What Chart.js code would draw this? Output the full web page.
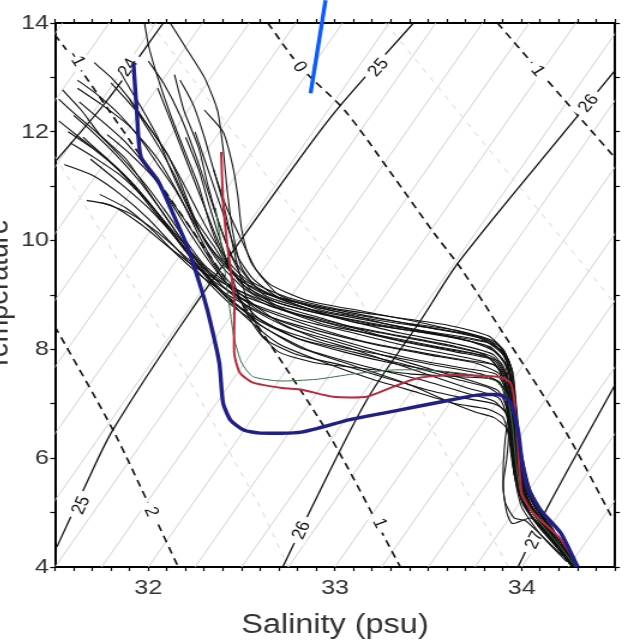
<!DOCTYPE html>
<html lang="en">
<head>
<meta charset="UTF-8">
<title>T-S diagram</title>
<style>
    html, body { margin: 0; padding: 0; background: #fff; overflow: hidden; }
    body { width: 626px; height: 643px; position: relative; }
    /* the original figure is a little stretched sideways */
    .stretch { position: absolute; left: -26px; top: 0; width: 543px; height: 643px; transform: scaleX(1.2); transform-origin: 0 0; }
</style>
</head>
<body>
<div class="stretch"><canvas id="ts"></canvas></div>
<script src="https://cdn.jsdelivr.net/npm/chart.js"></script>
<script>
// ---- data, [salinity, temperature] ----
const blueProfile = [[31.92,13.27],[31.94,12.27],[31.96,11.54],[32.05,11.11],[32.13,10.51],[32.21,9.88],[32.28,9.15],[32.32,8.67],[32.38,7.75],[32.40,7.02],[32.44,6.70],[32.51,6.52],[32.60,6.46],[32.82,6.48],[33.08,6.71],[33.26,6.83],[33.44,6.95],[33.62,7.07],[33.76,7.16],[33.89,7.16],[33.94,7.02],[33.98,6.52],[34.0,5.97],[34.03,5.47],[34.10,5.05],[34.21,4.62],[34.30,4.0]];
const redProfile = [[32.39,11.63],[32.40,10.74],[32.42,10.0],[32.46,8.91],[32.46,7.93],[32.49,7.57],[32.56,7.39],[32.72,7.29],[32.82,7.26],[32.99,7.13],[33.17,7.13],[33.31,7.31],[33.44,7.47],[33.62,7.53],[33.89,7.49],[33.94,7.38],[33.96,7.07],[33.98,6.2],[34.0,5.36],[34.06,5.0],[34.21,4.51],[34.30,4.0]];
const greenProfile = [[32.36,10.6],[32.4,9.7],[32.43,8.9],[32.46,8.2],[32.5,7.75],[32.56,7.5],[32.7,7.42],[32.9,7.45],[33.1,7.55],[33.3,7.62],[33.5,7.62],[33.7,7.55],[33.86,7.42],[33.92,7.15],[33.95,6.6],[33.97,5.9],[34.0,5.3],[34.09,4.85],[34.2,4.4],[34.29,4.0]];
const blackProfiles = [
    [[32.08,14.2],[32.2,13.55],[32.3,13.0],[32.37,12.4],[32.4,11.7],[32.42,11.0],[32.45,10.2],[32.5,9.5],[32.62,9.0],[32.85,8.75],[33.15,8.55],[33.45,8.35],[33.72,8.15],[33.86,7.95],[33.93,7.6],[33.96,7.0],[33.98,6.3],[34.02,5.6],[34.1,5.0],[34.2,4.5],[34.3,4.0]],
    [[31.62,12.95],[31.72,12.7],[31.85,12.3],[31.95,11.9],[32.05,11.4],[32.15,10.9],[32.25,10.3],[32.35,9.8],[32.5,9.3],[32.7,8.95],[33.0,8.7],[33.3,8.45],[33.6,8.25],[33.82,8.05],[33.92,7.7],[33.95,7.1],[33.97,6.4],[34.0,5.8],[34.06,5.2],[34.18,4.6],[34.29,4.0]],
    [[31.52,12.6],[31.6,12.35],[31.72,12.0],[31.85,11.55],[31.98,11.05],[32.1,10.5],[32.2,10.0],[32.3,9.55],[32.45,9.15],[32.65,8.8],[32.95,8.5],[33.25,8.3],[33.55,8.1],[33.8,7.9],[33.9,7.55],[33.94,7.0],[33.96,6.4],[33.99,5.7],[34.05,5.1],[34.17,4.55],[34.28,4.0]],
    [[31.67,10.74],[31.8,10.65],[31.96,10.3],[32.12,9.85],[32.28,9.45],[32.44,9.15],[32.65,8.85],[32.95,8.55],[33.3,8.2],[33.6,8.0],[33.82,7.85],[33.9,7.5],[33.93,6.9],[33.96,6.2],[33.98,5.6],[34.04,5.0],[34.16,4.5],[34.27,4.0]],
    [[31.74,10.85],[31.88,10.6],[32.02,10.2],[32.15,9.75],[32.3,9.3],[32.45,8.95],[32.65,8.6],[32.9,8.35],[33.2,8.1],[33.5,7.9],[33.75,7.75],[33.88,7.55],[33.92,7.1],[33.95,6.5],[33.97,5.9],[34.02,5.3],[34.12,4.75],[34.26,4.05]],
    [[31.69,11.5],[31.85,11.05],[32.0,10.6],[32.15,10.05],[32.3,9.5],[32.5,9.0],[32.75,8.7],[33.05,8.45],[33.35,8.25],[33.65,8.05],[33.85,7.85],[33.93,7.4],[33.95,6.8],[33.97,6.1],[34.0,5.5],[34.08,4.95],[34.19,4.45],[34.29,4.0]],
    [[31.71,13.27],[31.8,13.0],[31.9,12.6],[32.0,12.1],[32.1,11.6],[32.18,11.0],[32.25,10.4],[32.35,9.9],[32.45,9.4],[32.6,9.05],[32.9,8.8],[33.2,8.6],[33.5,8.4],[33.78,8.2],[33.9,7.9],[33.95,7.4],[33.97,6.8],[34.0,6.1],[34.05,5.4],[34.15,4.8],[34.28,4.05]],
    [[31.54,12.77],[31.64,12.4],[31.74,11.95],[31.88,11.5],[32.01,10.85],[32.14,10.2],[32.28,9.55],[32.42,9.1],[32.6,8.75],[32.85,8.45],[33.15,8.15],[33.45,7.95],[33.7,7.8],[33.86,7.7],[33.92,7.3],[33.94,6.6],[33.96,5.9],[34.0,5.3],[34.1,4.8],[34.25,4.1]],
    [[31.97,14.2],[32.0,13.6],[32.05,13.0],[32.12,12.3],[32.2,11.6],[32.27,11.0],[32.33,10.3],[32.4,9.7],[32.5,9.2],[32.7,8.85],[33.0,8.6],[33.3,8.4],[33.6,8.25],[33.84,8.1],[33.93,7.8],[33.96,7.2],[33.98,6.5],[34.01,5.8],[34.07,5.2],[34.18,4.6],[34.3,4.0]],
    [[32.14,13.05],[32.19,12.4],[32.27,11.7],[32.32,11.0],[32.38,10.3],[32.46,9.6],[32.55,9.1],[32.75,8.7],[33.05,8.4],[33.35,8.15],[33.65,7.95],[33.85,7.8],[33.92,7.45],[33.95,6.9],[33.97,6.2],[33.99,5.5],[34.06,5.0],[34.18,4.5],[34.28,4.0]],
    [[32.17,12.95],[32.24,12.5],[32.3,11.9],[32.35,11.3],[32.42,10.6],[32.5,10.0],[32.58,9.45],[32.7,9.0],[32.95,8.7],[33.3,8.5],[33.6,8.35],[33.8,8.2],[33.9,8.0],[33.95,7.6],[33.97,7.0],[33.99,6.3],[34.02,5.6],[34.1,5.0],[34.2,4.5],[34.3,4.0]],
    [[32.3,12.4],[32.4,12.0],[32.45,11.4],[32.48,10.8],[32.5,10.2],[32.55,9.6],[32.65,9.2],[32.85,8.9],[33.15,8.7],[33.45,8.5],[33.7,8.3],[33.85,8.1],[33.92,7.8],[33.95,7.3],[33.97,6.6],[34.0,5.9],[34.05,5.3],[34.15,4.7],[34.27,4.05]],
    [[31.6,12.3],[31.7,12.0],[31.82,11.6],[31.95,11.1],[32.08,10.5],[32.2,9.9],[32.32,9.35],[32.45,8.9],[32.6,8.45],[32.8,8.05],[33.1,7.7],[33.4,7.35],[33.6,7.05],[33.75,6.85],[33.85,6.75],[33.92,6.55],[33.95,6.2],[33.98,5.7],[34.03,5.2],[34.13,4.7],[34.26,4.05]],
    [[31.65,11.9],[31.78,11.5],[31.92,11.0],[32.05,10.45],[32.18,9.9],[32.3,9.4],[32.42,8.95],[32.58,8.55],[32.8,8.2],[33.1,7.95],[33.4,7.7],[33.65,7.45],[33.82,7.3],[33.9,7.1],[33.93,6.7],[33.95,6.1],[33.98,5.5],[34.04,5.0],[34.16,4.5],[34.28,4.0]],
    [[31.58,11.8],[31.7,11.55],[31.85,11.2],[32.0,10.7],[32.15,10.1],[32.28,9.6],[32.4,9.15],[32.55,8.75],[32.75,8.4],[33.0,8.15],[33.3,7.85],[33.55,7.6],[33.75,7.4],[33.87,7.25],[33.92,6.95],[33.94,6.4],[33.97,5.8],[34.02,5.2],[34.12,4.7],[34.25,4.1]],
    [[31.62,12.8],[31.75,12.5],[31.9,12.1],[32.05,11.5],[32.17,10.8],[32.27,10.1],[32.37,9.5],[32.5,9.0],[32.7,8.5],[32.9,8.2],[33.1,8.0],[33.4,7.65],[33.7,7.3],[33.88,7.1],[33.93,6.6],[33.92,6.0],[33.9,5.5],[33.92,5.0],[33.95,4.8],[34.05,4.9],[34.15,4.6],[34.25,4.1]],
    [[31.8,12.9],[31.88,12.6],[31.98,12.2],[32.08,11.7],[32.18,11.1],[32.27,10.5],[32.36,9.95],[32.47,9.45],[32.62,9.05],[32.85,8.75],[33.1,8.5],[33.4,8.35],[33.65,8.2],[33.83,8.05],[33.91,7.75],[33.94,7.15],[33.96,6.5],[33.99,5.8],[34.04,5.2],[34.15,4.65],[34.27,4.05]],
    [[32.0,13.3],[32.08,12.9],[32.17,12.3],[32.25,11.6],[32.32,10.9],[32.38,10.3],[32.45,9.7],[32.55,9.25],[32.75,8.95],[33.0,8.75],[33.3,8.6],[33.6,8.45],[33.82,8.25],[33.9,8.0],[33.95,7.6],[33.97,6.9],[33.99,6.2],[34.03,5.5],[34.1,4.95],[34.22,4.4],[34.3,4.0]],
    [[31.75,10.7],[31.9,10.5],[32.05,10.15],[32.2,9.7],[32.35,9.25],[32.55,8.85],[32.8,8.55],[33.1,8.3],[33.4,8.05],[33.7,7.85],[33.86,7.7],[33.92,7.3],[33.95,6.7],[33.97,6.0],[34.01,5.4],[34.09,4.9],[34.2,4.4],[34.29,4.0]],
    [[32.25,12.0],[32.3,11.5],[32.36,10.9],[32.42,10.3],[32.48,9.7],[32.56,9.3],[32.7,8.95],[32.95,8.65],[33.25,8.45],[33.55,8.3],[33.8,8.15],[33.9,7.95],[33.94,7.5],[33.96,6.9],[33.98,6.2],[34.01,5.5],[34.07,5.0],[34.18,4.5],[34.28,4.0]],
    [[31.55,11.4],[31.7,11.2],[31.85,10.85],[32.0,10.4],[32.15,9.85],[32.3,9.3],[32.45,8.8],[32.62,8.4],[32.85,8.0],[33.15,7.7],[33.45,7.45],[33.7,7.2],[33.85,7.05],[33.92,6.8],[33.95,6.3],[33.97,5.7],[34.02,5.1],[34.12,4.65],[34.26,4.05]],
    [[31.9,12.6],[31.97,12.2],[32.06,11.7],[32.14,11.2],[32.22,10.6],[32.3,10.0],[32.4,9.5],[32.52,9.1],[32.7,8.75],[32.95,8.45],[33.25,8.25],[33.55,8.05],[33.78,7.9],[33.89,7.75],[33.93,7.4],[33.96,6.8],[33.98,6.1],[34.02,5.45],[34.1,4.9],[34.22,4.35],[34.3,4.0]],
    [[32.35,11.3],[32.4,10.7],[32.44,10.1],[32.48,9.5],[32.53,8.9],[32.6,8.3],[32.7,7.95],[32.9,7.75],[33.15,7.65],[33.4,7.55],[33.65,7.5],[33.85,7.45],[33.92,7.2],[33.94,6.6],[33.96,5.9],[34.0,5.3],[34.1,4.8],[34.22,4.3],[34.3,4.0]],
    [[31.52,12.2],[31.63,11.9],[31.78,11.5],[31.93,11.0],[32.07,10.4],[32.2,9.8],[32.33,9.25],[32.48,8.8],[32.68,8.4],[32.95,8.1],[33.25,7.9],[33.55,7.7],[33.78,7.55],[33.88,7.4],[33.92,7.0],[33.94,6.35],[33.96,5.7],[34.0,5.1],[34.1,4.6],[34.24,4.1]],
    [[31.85,13.1],[31.9,12.8],[31.97,12.4],[32.05,11.9],[32.12,11.3],[32.2,10.7],[32.28,10.15],[32.38,9.65],[32.5,9.25],[32.7,8.95],[33.0,8.7],[33.35,8.5],[33.65,8.35],[33.85,8.15],[33.92,7.85],[33.95,7.3],[33.97,6.6],[33.99,5.9],[34.04,5.3],[34.14,4.75],[34.26,4.1]],
    [[31.57,12.0],[31.7,11.7],[31.84,11.3],[31.98,10.8],[32.12,10.2],[32.25,9.6],[32.38,9.1],[32.52,8.6],[32.7,8.1],[32.95,7.75],[33.2,7.45],[33.45,7.2],[33.65,7.0],[33.82,6.9],[33.9,6.75],[33.93,6.4],[33.95,5.9],[33.98,5.4],[34.05,4.95],[34.16,4.5],[34.27,4.0]],
    [[31.78,11.95],[31.9,11.6],[32.03,11.15],[32.15,10.6],[32.26,10.05],[32.36,9.5],[32.47,9.0],[32.6,8.55],[32.8,8.2],[33.05,7.95],[33.3,7.75],[33.55,7.6],[33.78,7.5],[33.88,7.4],[33.92,7.1],[33.94,6.5],[33.96,5.8],[34.0,5.2],[34.08,4.8],[34.2,4.35],[34.29,4.0]],
    [[32.2,11.9],[32.27,11.3],[32.33,10.6],[32.39,9.95],[32.45,9.3],[32.52,8.7],[32.62,8.2],[32.8,7.9],[33.05,7.7],[33.3,7.45],[33.5,7.25],[33.7,7.1],[33.85,7.0],[33.92,6.85],[33.94,6.3],[33.96,5.7],[34.01,5.15],[34.1,4.7],[34.23,4.2]],
    [[31.63,12.55],[31.75,12.2],[31.88,11.8],[32.0,11.3],[32.12,10.7],[32.23,10.1],[32.34,9.55],[32.46,9.05],[32.62,8.65],[32.85,8.35],[33.15,8.05],[33.45,7.8],[33.7,7.65],[33.86,7.55],[33.92,7.25],[33.94,6.7],[33.96,6.0],[33.99,5.4],[34.06,4.9],[34.18,4.45],[34.28,4.0]],
    [[32.05,12.8],[32.12,12.2],[32.2,11.5],[32.28,10.8],[32.36,10.1],[32.44,9.5],[32.55,9.05],[32.75,8.8],[33.05,8.55],[33.35,8.3],[33.65,8.1],[33.85,7.9],[33.92,7.5],[33.93,6.9],[33.91,6.3],[33.9,5.7],[33.91,5.2],[33.96,4.9],[34.02,4.85],[34.1,4.6],[34.22,4.2]]
];

// isopycnals (solid) and spiciness lines (dashed)
const sigma24 = [[31.5,11.45],[31.78,12.58],[32.08,14.0]];
const sigma25 = [[31.51,4.37],[31.67,5.55],[31.81,6.52],[32.22,8.67],[32.815,11.53],[33.02,12.45],[33.42,14.0]];
const sigma26 = [[32.72,4.0],[32.85,4.92],[33.17,7.07],[33.46,8.54],[33.67,9.64],[34.28,12.21],[34.5,13.13]];
const sigma27 = [[33.98,4.0],[34.14,5.11],[34.5,7.35]];
const spiceM2 = [[31.5,8.42],[31.81,6.52],[32.02,5.02],[32.16,4.0]];
const spiceM1 = [[31.5,13.78],[31.61,13.28],[32.91,6.75],[33.35,4.0]];
const spice0 = [[32.64,14.0],[32.815,13.19],[33.05,12.40],[33.30,11.24],[33.53,10.14],[33.67,9.51],[33.90,8.30],[34.23,6.52],[34.49,4.87]];
const spice1 = [[33.87,14.0],[34.09,13.13],[34.5,11.52]];
const spiceHalfLines = [
    [[31.5,11.55],[32.13,7.98],[32.6,5.1],[32.75,4.0]],
    [[32.01,14.0],[33.12,9.0],[33.93,4.0]],
    [[33.27,14.0],[33.39,13.5],[34.41,9.22],[34.5,8.82]]
];
// thin grey background lines: salinity where each meets 4 and 14 degrees
const greyLineBottomS = [29.5,29.75,30,30.25,30.5,30.75,31,31.25,31.5,31.75,32,32.25,32.5,32.75,33,33.25,33.5,33.75,34,34.25,34.5];
const greyLineTopS = [31.54,31.79,32.04,32.29,32.54,32.79,33.04,33.29,33.54,33.79,34.04,34.29,34.54,34.79,35.04,35.29,35.54,35.79,36.04,36.29,36.54];
// blue pen stroke drawn over the figure
const penStroke = [[32.869,12.709],[32.949,14.417]];

// contour labels
const labelText = ['24', '25', '26', '25', '26', '27', '-1', '0', '1', '2', '1'];
const labelS = [31.887, 33.228, 34.354, 31.635, 32.815, 34.064, 31.62, 32.815, 34.091, 32.02, 33.244];
const labelT = [13.19, 13.19, 12.53, 5.14, 4.68, 4.50, 13.35, 13.2, 13.13, 5.02, 4.81];
const labelAngle = [-59, -53, -55, -69, -68, -67, 61, 54, 54, 69, 66];

const toPts = a => a.map(([s, t]) => ({ x: s, y: t }));
const line = (data, color, width, order, extra) => Object.assign({
    data: toPts(data), showLine: true, borderColor: color, borderWidth: width,
    pointRadius: 0, fill: false, order: order
}, extra || {});

const datasets = [];
datasets.push(line(penStroke, '#0b5cff', 3.4, -1, { clip: false }));
datasets.push(line(blueProfile, '#1f1f88', 3.4, 0, { tension: 0.2 }));
datasets.push(line(redProfile, '#b82a3c', 2, 1, { tension: 0.2 }));
datasets.push(line(greenProfile, '#3a6e48', 1, 2, { tension: 0.2 }));
blackProfiles.forEach(p => datasets.push(line(p, '#121212', 1.1, 3, { tension: 0.2 })));
datasets.push({ data: [], labelLayer: true, order: 4 });
[sigma24, sigma25, sigma26, sigma27].forEach(s => datasets.push(line(s, '#111', 1.3, 5, { tension: 0.3 })));
[spiceM2, spiceM1, spice0, spice1].forEach(s => datasets.push(line(s, '#111', 1.6, 5, { tension: 0.3, borderDash: [7, 5] })));
spiceHalfLines.forEach(s => datasets.push(line(s, '#d8d8d8', 1, 6, { borderDash: [5, 6] })));
greyLineBottomS.forEach((s0, i) => datasets.push(line([[s0, 4], [greyLineTopS[i], 14]], '#cdcdcd', 0.9, 7)));

const contourLabels = {
    id: 'contourLabels',
    afterDatasetDraw(chart, args) {
        if (!chart.data.datasets[args.index].labelLayer) return;
        const { ctx, scales } = chart;
        ctx.save();
        ctx.font = '16px "Liberation Sans", Arial, sans-serif';
        ctx.textAlign = 'center';
        ctx.textBaseline = 'middle';
        labelText.forEach((txt, i) => {
            const px = scales.x.getPixelForValue(labelS[i]);
            const py = scales.y.getPixelForValue(labelT[i]);
            ctx.save();
            ctx.translate(px, py);
            ctx.rotate(labelAngle[i] * Math.PI / 180);
            const w = ctx.measureText(txt).width + 10;
            ctx.fillStyle = '#fff';
            ctx.fillRect(-w / 2, -8, w, 16);
            ctx.fillStyle = '#111';
            ctx.fillText(txt, 0, 1);
            ctx.restore();
        });
        ctx.restore();
    }
};

const isWhole = v => Math.abs(v - Math.round(v)) < 1e-6;
const font = size => ({ family: '"Liberation Sans", Arial, sans-serif', size: size });
const axisBorder = { display: true, color: '#000', width: 2 };

new Chart(document.getElementById('ts'), {
    type: 'scatter',
    data: { datasets: datasets },
    options: {
        responsive: true,
        maintainAspectRatio: false,
        animation: false,
        events: [],
        layout: { padding: 0 },
        plugins: { legend: { display: false }, tooltip: { enabled: false } },
        scales: {
            x: {
                type: 'linear', position: 'bottom', min: 31.5, max: 34.5,
                ticks: { stepSize: 0.1, autoSkip: false, maxRotation: 0, padding: 5, color: '#333', font: font(21),
                    callback: v => isWhole(v) ? String(Math.round(v)) : '' },
                grid: { drawOnChartArea: false, tickLength: 4, tickColor: '#000', tickWidth: 1.2 },
                border: axisBorder,
                title: { display: true, text: 'Salinity (psu)', color: '#333', font: font(27), padding: { top: 0, bottom: 1 } },
                afterFit: s => { s.height = 76; }
            },
            xTop: {
                type: 'linear', position: 'top', min: 31.5, max: 34.5,
                ticks: { stepSize: 0.1, autoSkip: false, maxRotation: 0, padding: 0, font: font(8), callback: () => '' },
                grid: { drawOnChartArea: false, tickLength: 4, tickColor: '#000', tickWidth: 1.2 },
                border: axisBorder,
                afterFit: s => { s.height = 23; }
            },
            y: {
                type: 'linear', position: 'left', min: 4, max: 14,
                ticks: { stepSize: 1, autoSkip: false, padding: 1, color: '#333', font: font(21),
                    callback: v => (isWhole(v) && Math.round(v) % 2 === 0) ? String(Math.round(v)) : '' },
                grid: { drawOnChartArea: false, tickLength: 4, tickColor: '#000', tickWidth: 1.2 },
                border: axisBorder,
                title: { display: true, text: 'Temperature', color: '#333', font: font(27), padding: { top: 4, bottom: 0 } },
                afterFit: s => { s.width = 67.5; }
            },
            yRight: {
                type: 'linear', position: 'right', min: 4, max: 14,
                ticks: { stepSize: 1, autoSkip: false, padding: 0, font: font(8), callback: () => '' },
                grid: { drawOnChartArea: false, tickLength: 4, tickColor: '#000', tickWidth: 1.2 },
                border: axisBorder,
                afterFit: s => { s.width = 8.8; }
            }
        }
    },
    plugins: [contourLabels]
});
</script>
</body>
</html>
